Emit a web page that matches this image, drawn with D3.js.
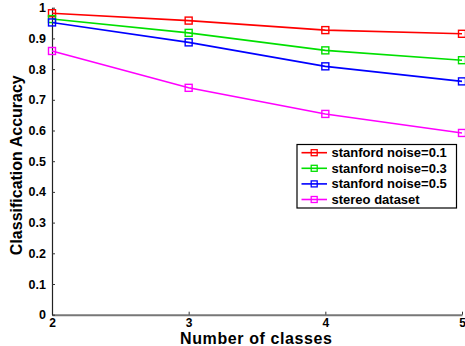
<!DOCTYPE html>
<html>
<head>
<meta charset="utf-8">
<script src="https://cdn.jsdelivr.net/npm/d3@7"></script>
<style>
  html, body { margin: 0; padding: 0; background: #fff; }
  svg { display: block; font-family: "Liberation Sans", Arial, sans-serif; font-weight: bold; }
</style>
</head>
<body>
<svg id="chart" width="465" height="346"></svg>
<script>
// Number of classes on the x axis
const classes = [2, 3, 4, 5];
// Accuracy per series
const noise01 = [0.982, 0.958, 0.927, 0.915];
const noise03 = [0.963, 0.918, 0.861, 0.829];
const noise05 = [0.952, 0.887, 0.809, 0.760];
const stereo  = [0.859, 0.739, 0.654, 0.592];
const seriesNames = ["stanford noise=0.1", "stanford noise=0.3", "stanford noise=0.5", "stereo dataset"];
const seriesColors = ["#ff0000", "#00e000", "#0000ff", "#ff00ff"];
const yTicks = [0, 0.1, 0.2, 0.3, 0.4, 0.5, 0.6, 0.7, 0.8, 0.9, 1];

const series = [noise01, noise03, noise05, stereo].map((vals, i) => ({
  name: seriesNames[i], color: seriesColors[i],
  points: vals.map((v, j) => ({ x: classes[j], y: v }))
}));

const svg = d3.select("#chart");
const plotLeft = 52, plotRight = 462, plotTop = 7.7, plotBottom = 314.7;

const x = d3.scaleLinear().domain([2, 5]).range([plotLeft, plotRight]);
const y = d3.scaleLinear().domain([0, 1]).range([plotBottom, plotTop]);

// Axes with inward ticks
const xAxis = svg.append("g").attr("transform", `translate(0,${plotBottom})`)
  .call(d3.axisBottom(x).tickValues(classes).tickFormat(d3.format("d")).tickSizeInner(-3).tickSizeOuter(0).tickPadding(4));
xAxis.select(".domain").attr("stroke", "#777").attr("stroke-width", 2);
xAxis.selectAll(".tick line").attr("stroke", "#333");
xAxis.selectAll("text").attr("font-size", 12).attr("font-weight", "bold").attr("fill", "#000")
  .attr("font-family", "Liberation Sans, Arial, sans-serif");

const yAxis = svg.append("g").attr("transform", `translate(${plotLeft},0)`)
  .call(d3.axisLeft(y).tickValues(yTicks).tickFormat(d => d === 0 || d === 1 ? String(d) : d.toFixed(1))
    .tickSizeInner(-3).tickSizeOuter(0).tickPadding(6));
yAxis.select(".domain").attr("stroke", "#222").attr("stroke-width", 1.2);
yAxis.selectAll(".tick line").attr("stroke", "#333");
yAxis.selectAll("text").attr("font-size", 12.5).attr("font-weight", "bold").attr("fill", "#000")
  .attr("font-family", "Liberation Sans, Arial, sans-serif");

// Axis titles
svg.append("text").attr("x", (plotLeft + plotRight) / 2 - 1).attr("y", 343.5)
  .attr("text-anchor", "middle").attr("font-size", 16).attr("textLength", 152)
  .text("Number of classes");
svg.append("text").attr("transform", `translate(22,${(plotTop + plotBottom) / 2 + 4}) rotate(-90)`)
  .attr("text-anchor", "middle").attr("font-size", 16).text("Classification Accuracy");

// Lines and square markers
const line = d3.line().x(d => x(d.x)).y(d => y(d.y));
series.forEach(s => {
  svg.append("path").datum(s.points).attr("d", line)
    .attr("fill", "none").attr("stroke", s.color).attr("stroke-width", 1.6);
  svg.selectAll(null).data(s.points).enter().append("rect")
    .attr("x", d => x(d.x) - 3.5).attr("y", d => y(d.y) - 3.5)
    .attr("width", 7).attr("height", 7)
    .attr("fill", "none").attr("stroke", s.color).attr("stroke-width", 1.4);
});

// Legend
const lg = svg.append("g");
lg.append("rect").attr("x", 297).attr("y", 144.5).attr("width", 159.5).attr("height", 63.5)
  .attr("fill", "#fff").attr("stroke", "#000").attr("stroke-width", 1.2);
series.forEach((s, i) => {
  const ly = 152.7 + i * 15.6;
  lg.append("line").attr("x1", 301.5).attr("x2", 327).attr("y1", ly).attr("y2", ly)
    .attr("stroke", s.color).attr("stroke-width", 1.6);
  lg.append("rect").attr("x", 314.2 - 3).attr("y", ly - 3).attr("width", 6).attr("height", 6)
    .attr("fill", "none").attr("stroke", s.color).attr("stroke-width", 1.3);
  lg.append("text").attr("x", 331.5).attr("y", ly + 4.5).attr("font-size", 13).text(s.name);
});
</script>
</body>
</html>
